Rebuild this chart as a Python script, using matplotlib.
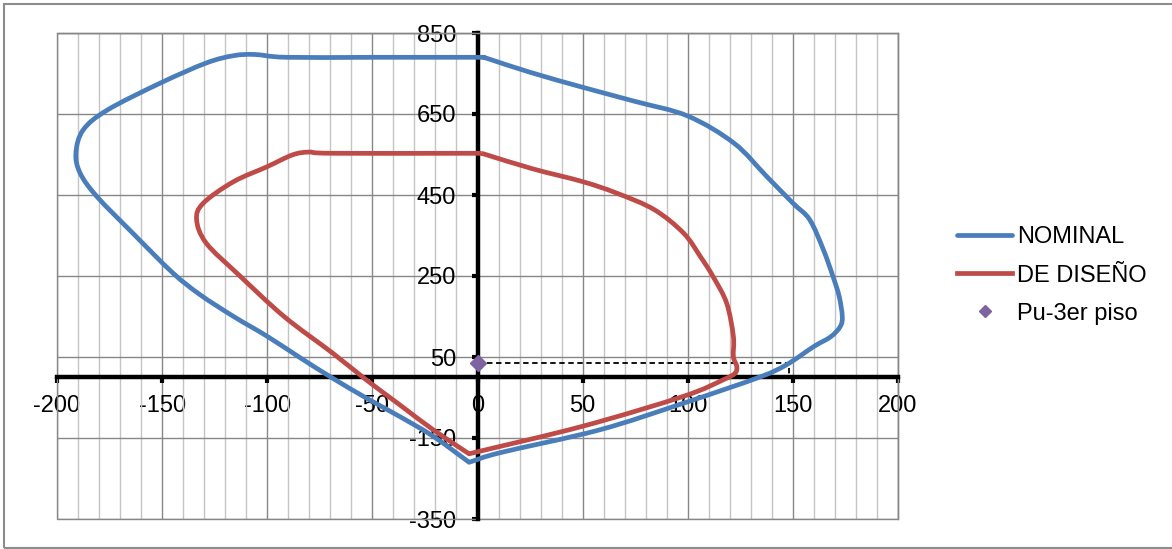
import matplotlib
matplotlib.use("Agg")
import matplotlib.pyplot as plt
from matplotlib.patches import Rectangle, PathPatch
from matplotlib.path import Path
from matplotlib.lines import Line2D
import numpy as np

# Interaction diagram (M, P) for the column section
nominal_m = [3, 25, 50, 75, 100, 122, 137.5, 150, 158, 164.5, 169, 172, 173.5, 172.5, 168,
             160, 147, 134, 98, 58, 11, -4, -21, -37, -53, -69, -84, -100, -116, -132,
             -145, -164, -181, -189, -191, -187.5, -176, -151, -129, -116, -106, -91, -50, 0, 3]
nominal_p = [790, 753, 716, 681, 645, 578, 496, 430, 389, 315, 250, 200, 150, 125, 100,
             76, 31, 0, -64, -130, -186, -210, -146, -97, -51, -2, 47, 101, 150, 204,
             258, 356, 446, 504, 554, 611, 660, 726, 776, 794, 797, 790, 790, 790, 790]

diseno_m = [2, 26, 50, 66, 84, 98, 106, 112, 118.5, 121.7, 121.7, 123.3, 122.5, 117, 98,
            50, -4, -21, -37, -53, -69, -92, -114, -129, -133.6, -130.4, -116, -100, -88,
            -80, -69, 0, 2]
diseno_p = [553, 515, 483, 455, 414, 356, 298, 249, 183, 101, 51, 27, 10, -6, -47,
            -121, -189, -130, -68, -6, 60, 150, 255, 331, 389, 430, 483, 520, 549,
            556, 553, 553, 553]

# Factored axial load of the 3rd floor
pu_m = [0]
pu_p = [36]
# Guide from Pu across to the nominal curve
guide_m = [0, 148, 148]
guide_p = [36, 36, 0]

x_ticks = list(range(-200, 201, 50))
y_ticks = list(range(-350, 851, 200))

BLUE = '#4a7ebb'
RED = '#be4b48'
PURPLE = '#7f63a1'


def smooth_path(xs, ys, corners=()):
    """Cubic Bezier path through the points (Catmull-Rom tangents),
    keeping sharp corners at the given indices."""
    pts = np.column_stack([xs, ys]).astype(float)
    n = len(pts)
    corners = set(corners) | {0, n - 1}
    t_out = np.zeros_like(pts)
    t_in = np.zeros_like(pts)
    for i in range(n):
        if i in corners:
            if i < n - 1:
                t_out[i] = pts[i + 1] - pts[i]
            if i > 0:
                t_in[i] = pts[i] - pts[i - 1]
        else:
            t = (pts[i + 1] - pts[i - 1]) / 2.0
            t_out[i] = t
            t_in[i] = t
    verts = [pts[0]]
    codes = [Path.MOVETO]
    for i in range(n - 1):
        verts += [pts[i] + t_out[i] / 3.0, pts[i + 1] - t_in[i + 1] / 3.0, pts[i + 1]]
        codes += [Path.CURVE4] * 3
    return Path(verts, codes)


plt.rcParams['font.family'] = ['Liberation Sans', 'DejaVu Sans']
plt.rcParams['font.size'] = 17
plt.rcParams['axes.unicode_minus'] = False

fig = plt.figure(figsize=(11.72, 5.49), dpi=100)
ax = fig.add_axes([57 / 1172, 30 / 549, 841 / 1172, 486 / 549])

LW = 3.4
ax.add_patch(PathPatch(smooth_path(nominal_m, nominal_p, corners=(0, 21, 43)),
                       fill=False, edgecolor=BLUE, lw=LW, joinstyle='round',
                       capstyle='round', zorder=4))
ax.add_patch(PathPatch(smooth_path(diseno_m, diseno_p, corners=(0, 16, 31)),
                       fill=False, edgecolor=RED, lw=LW, joinstyle='round',
                       capstyle='butt', zorder=4))
ax.plot(guide_m, guide_p, color='black', lw=1.3, ls=(0, (3, 2)), zorder=3)
ax.plot(pu_m, pu_p, ls='none', marker='D', ms=8, color=PURPLE, zorder=5)

ax.set_xlim(-200, 200)
ax.set_ylim(-350, 850)
ax.set_xticks(x_ticks)
ax.set_xticks(list(range(-200, 201, 10)), minor=True)
ax.set_yticks(y_ticks)

ax.grid(which='major', axis='both', color='#878787', lw=1.0, zorder=0)
ax.grid(which='minor', axis='x', color='#c4c4c4', lw=1.0, zorder=0)
ax.set_axisbelow(True)

for side in ('top', 'right'):
    ax.spines[side].set_color('#878787')
    ax.spines[side].set_linewidth(1.0)
for side in ('left', 'bottom'):
    ax.spines[side].set_position(('data', 0))
    ax.spines[side].set_color('black')
    ax.spines[side].set_linewidth(3.2)
    ax.spines[side].set_zorder(2.5)

ax.add_patch(Rectangle((0, 0), 1, 1, transform=ax.transAxes, fill=False,
                       edgecolor='#878787', lw=1.0, zorder=1, clip_on=False))

ax.tick_params(axis='x', which='major', direction='out', length=4.5, width=3,
               pad=8, color='black')
ax.tick_params(axis='y', which='major', direction='out', length=4.5, width=3,
               pad=11, color='black')
ax.tick_params(which='minor', length=0)

handles = [
    Line2D([], [], color=BLUE, lw=LW, solid_capstyle='round'),
    Line2D([], [], color=RED, lw=LW),
    Line2D([], [], ls='none', marker='D', ms=6, color=PURPLE),
]
labels = ['NOMINAL', 'DE DISEÑO', 'Pu-3er piso']
ax.legend(handles, labels, loc='center left',
          bbox_to_anchor=(957 / 1172, 1 - 275.5 / 549),
          bbox_transform=fig.transFigure, frameon=False, borderpad=0,
          borderaxespad=0, handlelength=2.35, handletextpad=0.2,
          labelspacing=0.68)

# chart-area border
fig.patches.append(Rectangle((4 / 1172, 1.5 / 549), 1.2, 544 / 549,
                             transform=fig.transFigure, fill=False,
                             edgecolor='#8c8c8c', lw=1.5))

fig.savefig('out.png', dpi=100)
